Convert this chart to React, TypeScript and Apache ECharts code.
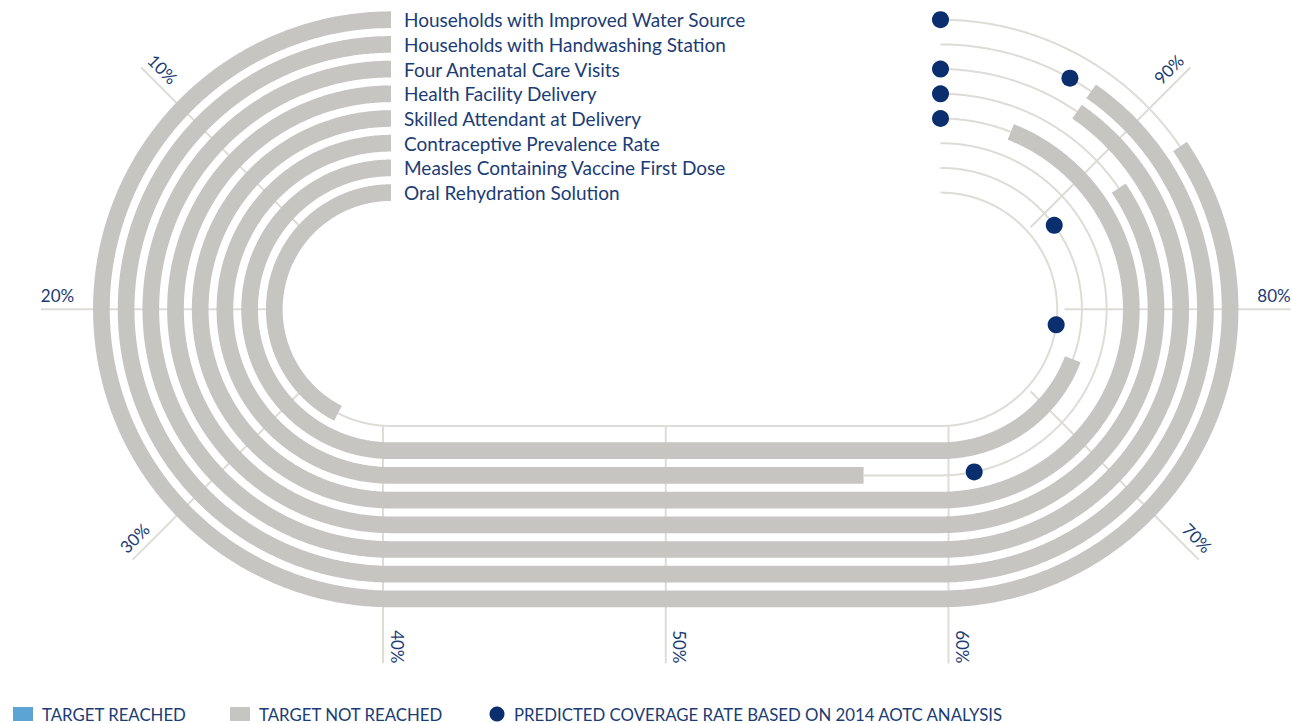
import React, { useEffect, useRef } from "react";
import * as echarts from "echarts";

// ---------- data ----------
const categories = [
  "Households with Improved Water Source",
  "Households with Handwashing Station",
  "Four Antenatal Care Visits",
  "Health Facility Delivery",
  "Skilled Attendant at Delivery",
  "Contraceptive Prevalence Rate",
  "Measles Containing Vaccine First Dose",
  "Oral Rehydration Solution",
];
const coverageValues = [87.6, 92.3, 92.3, 87.6, 95.2, 57.2, 75.4, 34.0];
const predictedValues = [100, 93.5, 100, 100, 100, 62.6, 88.1, 78.3];
const targetReached = [false, false, false, false, false, false, false, false];
const tickValues = [10, 20, 30, 40, 50, 60, 70, 80, 90];
const tickLabels = ["10%", "20%", "30%", "40%", "50%", "60%", "70%", "80%", "90%"];
const legendLabels = [
  "TARGET REACHED",
  "TARGET NOT REACHED",
  "PREDICTED COVERAGE RATE BASED ON 2014 AOTC ANALYSIS",
];

// ---------- layout / style ----------
const CX1 = 391;
const CX2 = 940.5;
const CY = 309.3;
const R0 = 289.6;
const STEP = 24.7;
const BAND = 16.7;
const TICK_SHIFT = 8;
const TICK_INNER = 116;
const LABEL_X = 404;

const GRAY = "#c6c5c1";
const BLUE = "#5ba4d3";
const THIN = "#dddcd6";
const NAVY = "#0b2e6e";
const TEXT = "#1b3c74";
const FONT = "Lato, 'Open Sans', sans-serif";

function pos(p: number, r: number, cx1: number, cx2: number): number[] {
  if (p <= 40) {
    const th = ((90 + p * 4.5) * Math.PI) / 180;
    return [cx1 + r * Math.cos(th), CY - r * Math.sin(th)];
  }
  if (p <= 60) {
    return [cx1 + ((p - 40) / 20) * (cx2 - cx1), CY + r];
  }
  const th = ((-90 + (p - 60) * 4.5) * Math.PI) / 180;
  return [cx2 + r * Math.cos(th), CY - r * Math.sin(th)];
}

function trackPoints(a: number, b: number, r: number): number[][] {
  const pts: number[][] = [];
  const n = Math.max(2, Math.ceil((b - a) / 0.1));
  for (let k = 0; k <= n; k++) pts.push(pos(a + ((b - a) * k) / n, r, CX1, CX2));
  return pts;
}

export default function App() {
  const ref = useRef<HTMLDivElement>(null);
  useEffect(() => {
    if (!ref.current) return;
    const chart = echarts.init(ref.current, null, { renderer: "svg" });

    const tickSeries = {
      type: "custom",
      coordinateSystem: "none",
      z: 1,
      silent: true,
      data: tickValues.map((v, i) => [v, i]),
      renderItem: (params: any, api: any) => {
        const p = api.value(0);
        const idx = api.value(1);
        const tx1 = CX1 - TICK_SHIFT;
        const tx2 = CX2 + TICK_SHIFT;
        const outerR = p > 25 && p < 75 ? 354 : 342;
        const a = pos(p, TICK_INNER, tx1, tx2);
        const b = pos(p, outerR, tx1, tx2);
        let rho: number;
        if (p < 40) rho = 90 + p * 4.5 - 180;
        else if (p <= 60) rho = -90;
        else rho = -90 + (p - 60) * 4.5;
        const rr = (rho * Math.PI) / 180;
        const len = Math.hypot(a[0] - b[0], a[1] - b[1]);
        const inX = (a[0] - b[0]) / len;
        const inY = (a[1] - b[1]) / len;
        const upX = -Math.sin(rr);
        const upY = -Math.cos(rr);
        const lx = b[0] + inX * 16.5 + upX * 14;
        const ly = b[1] + inY * 16.5 + upY * 14;
        return {
          type: "group",
          children: [
            {
              type: "line",
              shape: { x1: a[0], y1: a[1], x2: b[0], y2: b[1] },
              style: { stroke: THIN, lineWidth: 2 },
            },
            {
              type: "text",
              x: lx,
              y: ly,
              rotation: rr,
              style: {
                text: tickLabels[idx],
                fill: TEXT,
                font: `17px ${FONT}`,
                align: "center",
                verticalAlign: "middle",
              },
            },
          ],
        };
      },
    };

    const trackSeries = {
      type: "custom",
      coordinateSystem: "none",
      z: 2,
      silent: true,
      data: categories.map((c, i) => [i, coverageValues[i], targetReached[i] ? 1 : 0]),
      renderItem: (params: any, api: any) => {
        const i = api.value(0);
        const v = api.value(1);
        const reached = api.value(2) === 1;
        const r = R0 - STEP * i;
        return {
          type: "group",
          children: [
            {
              type: "polyline",
              shape: { points: trackPoints(v, 100, r) },
              style: { stroke: THIN, lineWidth: 2, fill: null },
            },
            {
              type: "polyline",
              shape: { points: trackPoints(0, v, r) },
              style: {
                stroke: reached ? BLUE : GRAY,
                lineWidth: BAND,
                lineCap: "butt",
                lineJoin: "round",
                fill: null,
              },
            },
            {
              type: "text",
              x: LABEL_X,
              y: CY - r,
              style: {
                text: categories[i],
                fill: TEXT,
                font: `19px ${FONT}`,
                align: "left",
                verticalAlign: "middle",
              },
            },
          ],
        };
      },
    };

    const dotSeries = {
      type: "custom",
      coordinateSystem: "none",
      z: 3,
      silent: true,
      data: categories.map((c, i) => [i, predictedValues[i]]),
      renderItem: (params: any, api: any) => {
        const i = api.value(0);
        const p = api.value(1);
        const r = R0 - STEP * i;
        const [x, y] = pos(p, r, CX1, CX2);
        return { type: "circle", shape: { cx: x, cy: y, r: 8.5 }, style: { fill: NAVY } };
      },
    };

    const legendY = 714;
    const legendFont = `16.8px ${FONT}`;
    chart.setOption({
      animation: false,
      backgroundColor: "#ffffff",
      series: [tickSeries, trackSeries, dotSeries],
      graphic: [
        { type: "rect", shape: { x: 13, y: 707, width: 20, height: 14 }, style: { fill: BLUE } },
        {
          type: "text",
          x: 42,
          y: legendY,
          style: { text: legendLabels[0], fill: TEXT, font: legendFont, verticalAlign: "middle" },
        },
        { type: "rect", shape: { x: 230, y: 707, width: 20, height: 14 }, style: { fill: GRAY } },
        {
          type: "text",
          x: 259,
          y: legendY,
          style: { text: legendLabels[1], fill: TEXT, font: legendFont, verticalAlign: "middle" },
        },
        { type: "circle", shape: { cx: 497, cy: legendY, r: 7.5 }, style: { fill: NAVY } },
        {
          type: "text",
          x: 514,
          y: legendY,
          style: { text: legendLabels[2], fill: TEXT, font: legendFont, verticalAlign: "middle" },
        },
      ],
    });
    return () => chart.dispose();
  }, []);
  return (
    <div
      ref={ref}
      style={{ position: "absolute", left: 0, top: 0, width: 1292, height: 723 }}
    />
  );
}
